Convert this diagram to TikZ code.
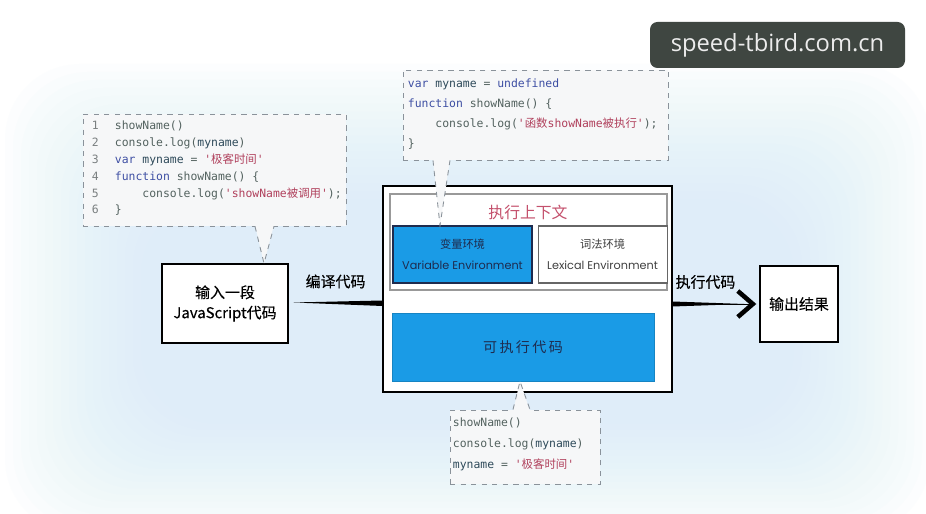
\documentclass[tikz,border=0pt]{standalone}
\usepackage{fontspec}
\setmainfont{Noto Sans CJK SC}
\setmonofont{DejaVu Sans Mono}
\newfontfamily\cjk{Noto Sans CJK SC}
\newfontfamily\cjkbold[FakeBold=0.3]{Noto Sans CJK SC}
\newfontfamily\handfont{Poppins}
\newfontfamily\markfont{Open Sans}
\usepackage{tikz}
\usetikzlibrary{arrows.meta,positioning,calc,backgrounds}
\usepackage{xcolor}

\definecolor{kwblue}{HTML}{3E4FA3}
\definecolor{strred}{HTML}{B0405C}
\definecolor{codegray}{HTML}{53625F}
\definecolor{codedark}{HTML}{2E4A5A}
\definecolor{numgray}{HTML}{7A7F80}
\definecolor{envblue}{HTML}{1A9BE6}
\definecolor{navy}{HTML}{1E2B4E}
\definecolor{bubblefill}{HTML}{F6F7F8}
\definecolor{bubbleline}{HTML}{8A929A}
\definecolor{titlered}{HTML}{C4506C}
\definecolor{glow}{HTML}{D6EDF9}
\definecolor{markgray}{HTML}{3F4641}

\newcommand{\kw}[1]{\textcolor{kwblue}{#1}}
\newcommand{\strg}[1]{\textcolor{strred}{#1}}
\newcommand{\lnum}[1]{\makebox[0.46cm][l]{\textcolor{numgray}{#1}}}

\begin{document}
\begin{tikzpicture}[
    box/.style={draw=black, line width=0.8pt, fill=white, align=center},
    env/.style={draw=navy, line width=0.6pt, minimum width=2.78cm, minimum height=1.14cm, align=center, font=\fontsize{6.4}{12}\selectfont},
    bubble/.style={draw=bubbleline, dashed, line width=0.5pt, fill=bubblefill},
    tail/.style={draw=bubbleline, dashed, line width=0.5pt},
    code/.style={anchor=north west, inner sep=0pt, align=left, text=codegray},
    lbl/.style={font=\cjkbold\fontsize{8.5}{10}\selectfont, inner sep=1pt}
  ]
    \useasboundingbox (0,0) rectangle (18.52,10.28);
    \fill[white] (0,0) rectangle (18.52,10.28);
    \foreach \i in {0,...,17}
      \fill[glow, opacity=0.06, rounded corners=1.5cm] (0.1+0.16*\i,-0.4+0.13*\i) rectangle (18.6-0.16*\i,9.0-0.16*\i);

    \node[box, minimum width=2.52cm, minimum height=1.58cm, font=\cjkbold\fontsize{8.5}{11.5}\selectfont] (inbox) at (4.5,4.21) {输入一段\\JavaScript代码};
    \node[box, minimum width=1.56cm, minimum height=1.52cm, font=\cjkbold\fontsize{8.5}{10}\selectfont] (outbox) at (15.98,4.2) {输出结果};

    \node[draw=black, line width=0.6pt, fill=white, minimum width=5.78cm, minimum height=4.12cm] (ctx) at (10.55,4.5) {};
    \node[draw=black!40, line width=0.6pt, minimum width=5.54cm, minimum height=1.92cm] (ectx) at (10.57,5.44) {};
    \node[text=titlered, font=\fontsize{9}{10}\selectfont] (title) at (10.56,6.04) {执行上下文};
    \node[env, fill=envblue, text=navy] (varenv) at (9.25,5.19) {变量环境\\{\handfont Variable Environment}};
    \node[env, draw=black!60, fill=white, text=black!75, minimum width=2.58cm, right=0.1cm of varenv] (lexenv) {词法环境\\{\handfont Lexical Environment}};
    \node[fill=envblue, draw=envblue!85!black, line width=0.4pt, minimum width=5.24cm, minimum height=1.36cm, text=navy, font=\fontsize{8}{10}\selectfont] (execcode) at (10.46,3.34) {可\,执\,行\,代\,码};

    % compile / run
    \fill[black] ($(inbox.east)+(0.1,0.02)$) -- ($(ctx.west |- inbox.east)+(0,0.06)$) -- ($(ctx.west |- inbox.east)+(0,-0.05)$) -- cycle;
    \path (inbox.east) -- node[lbl, above=0.26cm] (compile) {编译代码} (ctx.west |- inbox.east);
    \fill[black] ($(ctx.east |- outbox.west)+(0,0.05)$) -- ($(outbox.west)+(-0.3,0)$) -- ($(ctx.east |- outbox.west)+(0,-0.05)$) -- cycle;
    \draw[line width=0.5pt, -{Straight Barb[length=3mm,width=5.2mm,line width=2.6pt]}] (ctx.east |- outbox.west) -- ($(outbox.west)+(-0.06,0)$);
    \path (ctx.east |- outbox.west) -- node[lbl, above=0.26cm, pos=0.38] (run) {执行代码} (outbox.west);

    % bubbles
    \node[bubble, minimum width=5.26cm, minimum height=2.24cm] (bub1) at (4.29,6.88) {};
    \node[code, font=\ttfamily\fontsize{6.5}{9.6}\selectfont] (code1) at ($(bub1.north west)+(0.18,-0.14)$) {%
      \lnum{1}showName()\\
      \lnum{2}console.log(\textcolor{codedark}{myname})\\
      \lnum{3}\kw{var} \textcolor{codedark}{myname} = \strg{'{\cjk 极客时间}'}\\
      \lnum{4}\kw{function} showName() \{\\
      \lnum{5}\phantom{xxxx}console.log(\strg{'showName{\cjk 被调用}'});\\
      \lnum{6}\}};
    \fill[bubblefill] ($(bub1.south)+(0.81,0.03)$) -- ($(inbox.north)+(0.78,0)$) -- ($(bub1.south)+(1.19,0.03)$) -- cycle;
    \draw[tail] ($(bub1.south)+(0.81,0)$) -- ($(inbox.north)+(0.78,0)$) -- ($(bub1.south)+(1.19,0)$);

    \node[bubble, minimum width=5.3cm, minimum height=1.8cm] (bub2) at (10.71,7.98) {};
    \node[code, font=\ttfamily\fontsize{6.5}{11.3}\selectfont] (code2) at ($(bub2.north west)+(0.1,-0.18)$) {%
      \kw{var} \textcolor{codedark}{myname} = \kw{undefined}\\
      \kw{function} showName() \{\\
      \phantom{xxxx}console.log(\strg{'{\cjk 函数}showName{\cjk 被执行}'});\\
      \}};
    \fill[bubblefill] ($(bub2.south)+(-2.05,0.03)$) -- ($(varenv.north)+(-0.45,0)$) -- ($(bub2.south)+(-1.71,0.03)$) -- cycle;
    \draw[tail] ($(bub2.south)+(-2.05,0)$) -- ($(varenv.north)+(-0.45,0)$) -- ($(bub2.south)+(-1.71,0)$);

    \node[bubble, minimum width=3cm, minimum height=1.48cm] (bub3) at (10.5,1.34) {};
    \node[code, font=\ttfamily\fontsize{6.5}{12}\selectfont] (code3) at ($(bub3.north west)+(0.06,-0.16)$) {%
      showName()\\
      console.log(\textcolor{codedark}{myname})\\
      \textcolor{codedark}{myname} = \strg{'{\cjk 极客时间}'}};
    \fill[bubblefill] ($(bub3.north)+(-0.24,-0.03)$) -- ($(execcode.south)+(-0.06,0)$) -- ($(bub3.north)+(0.1,-0.03)$) -- cycle;
    \draw[tail] ($(bub3.north)+(-0.24,0)$) -- ($(execcode.south)+(-0.06,0)$) -- ($(bub3.north)+(0.1,0)$);

    \node[fill=markgray, rounded corners=0.15cm, minimum width=5.1cm, minimum height=0.92cm, text=white!90!markgray, font=\markfont\fontsize{13.5}{16}\selectfont] (mark) at (15.55,9.38) {speed-tbird.com.cn};
\end{tikzpicture}
\end{document}
